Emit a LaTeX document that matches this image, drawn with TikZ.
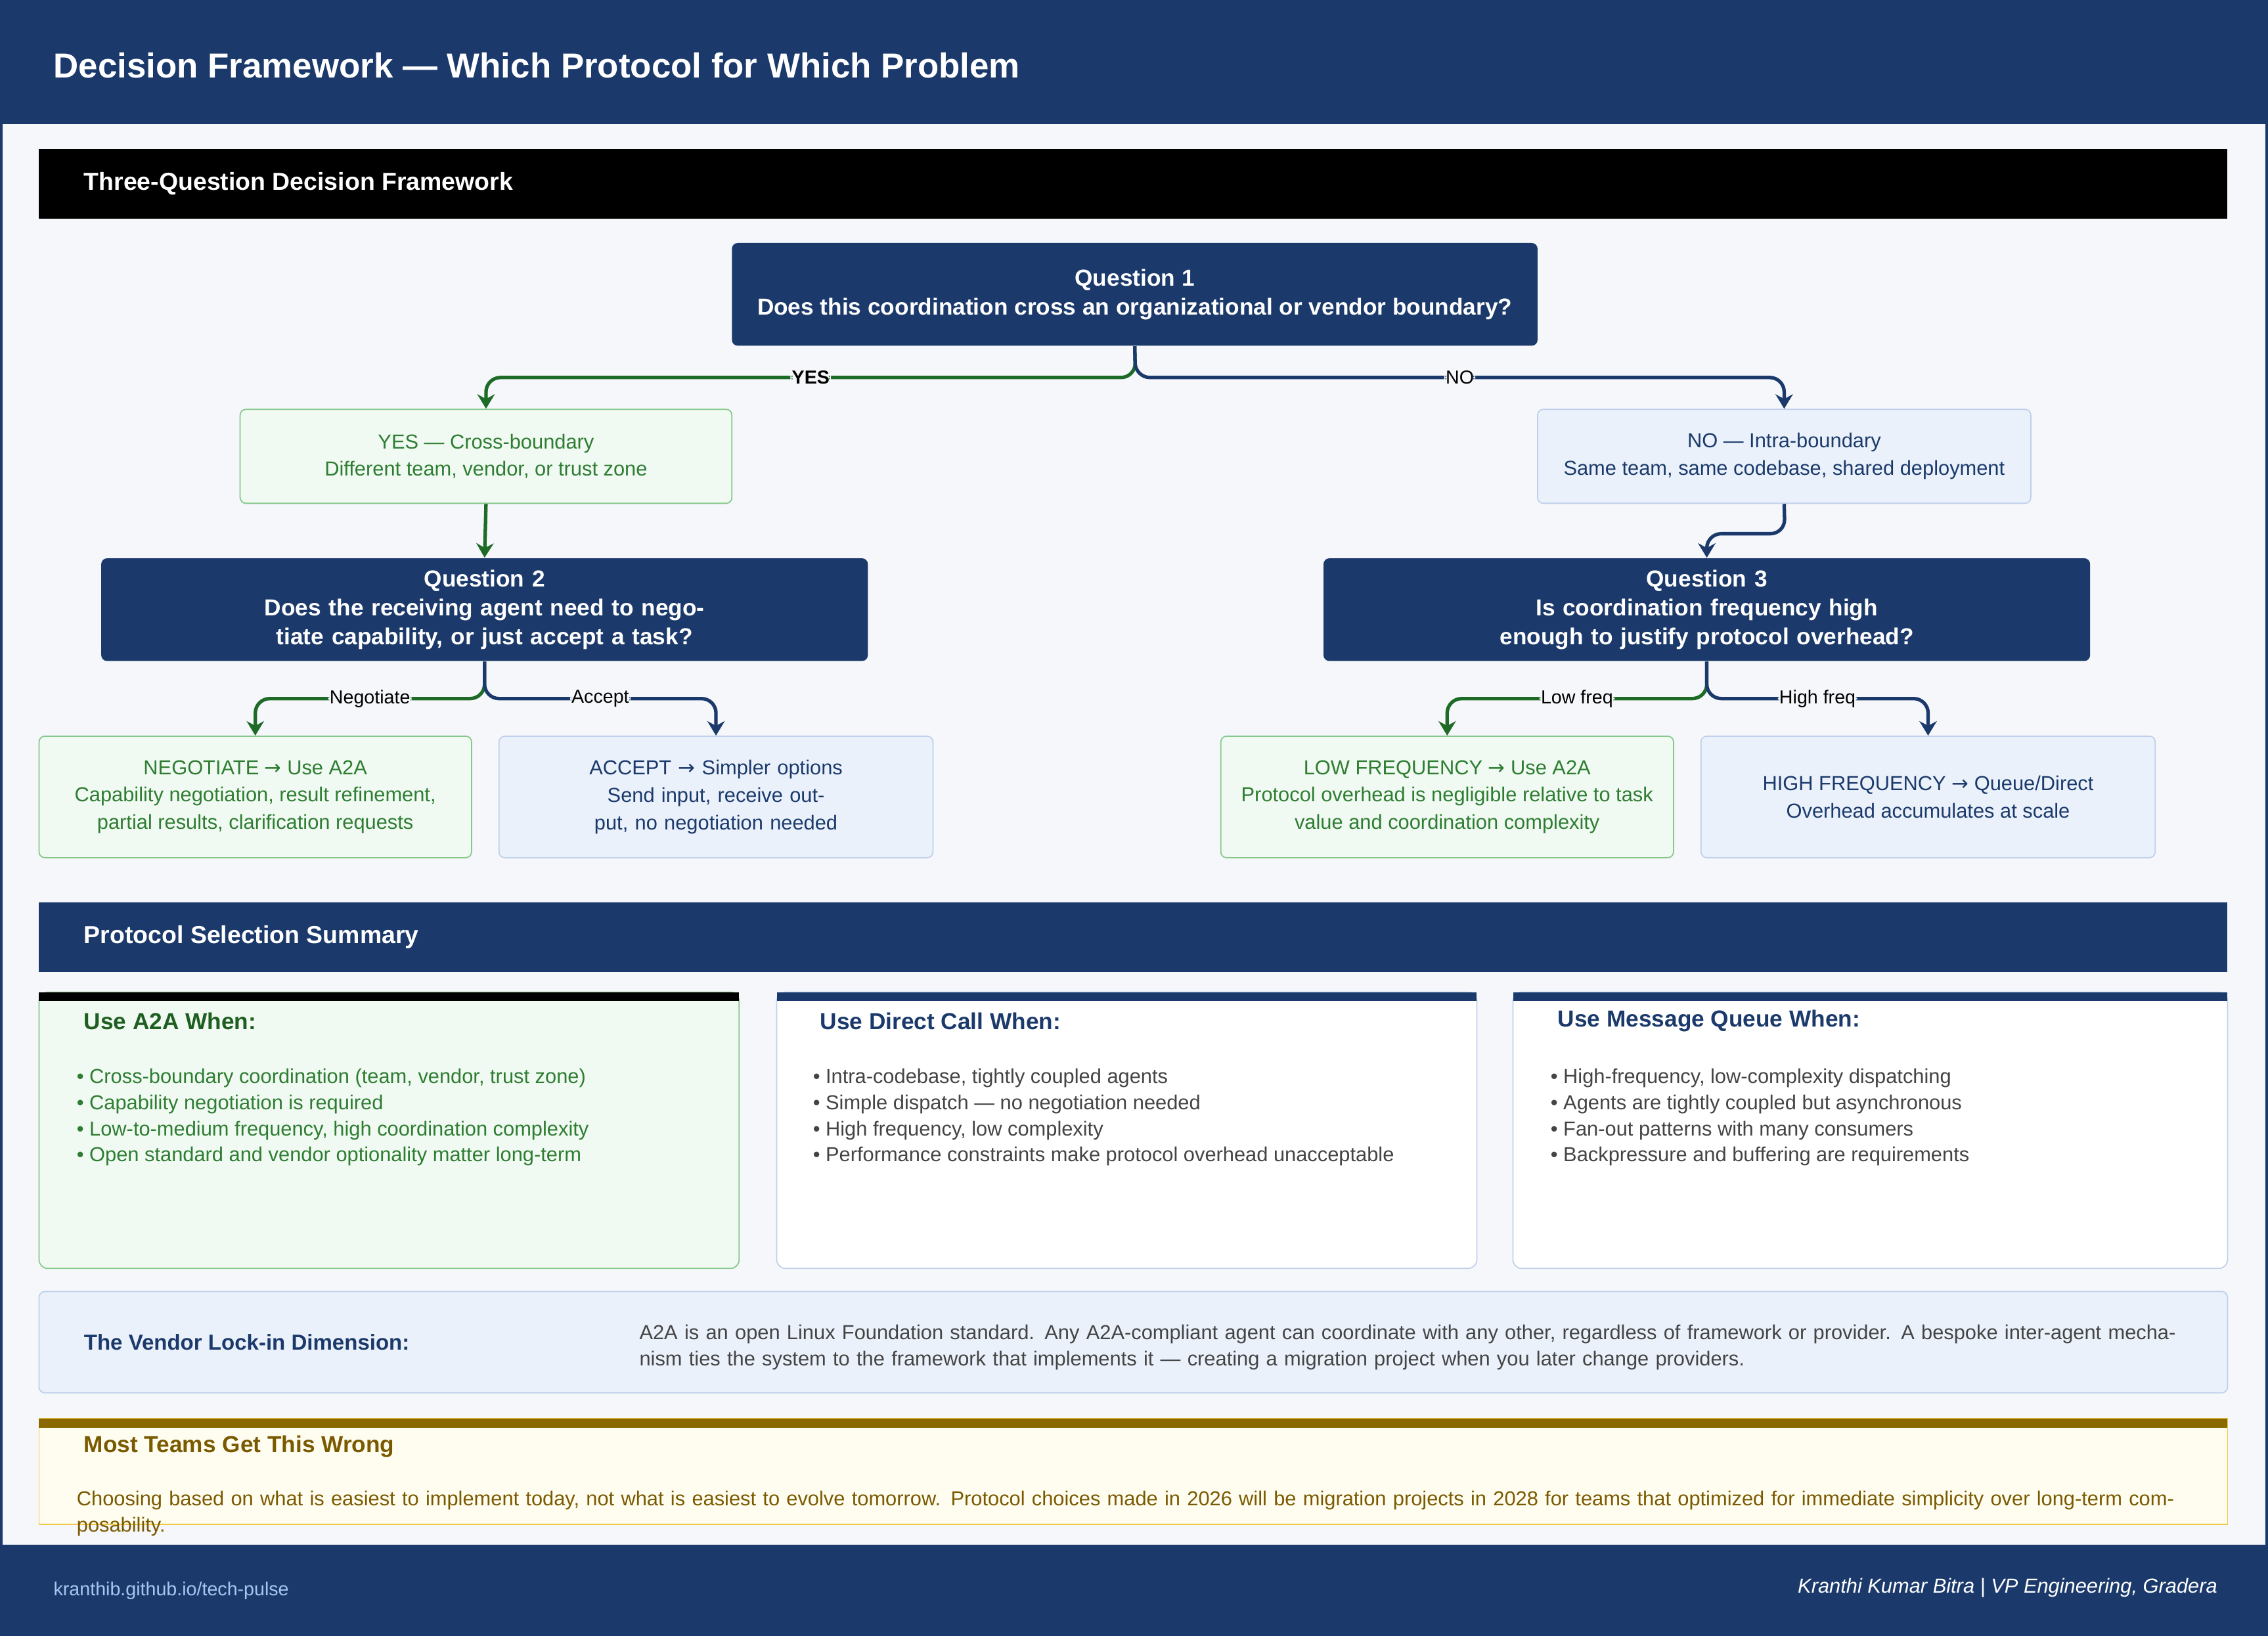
\documentclass[tikz,border=0pt]{standalone}
\usepackage{fontspec}
\setmainfont{Liberation Sans}
\newfontfamily\symfont{DejaVu Sans}
\usetikzlibrary{arrows.meta,calc,positioning}
\definecolor{navy}{HTML}{1B3A6B}
\definecolor{band}{HTML}{1E5E20}
\definecolor{gline}{HTML}{1E6B27}
\definecolor{gtext}{HTML}{2E7D32}
\definecolor{gfill}{HTML}{F0FAF2}
\definecolor{gborder}{HTML}{86C98A}
\definecolor{bfill}{HTML}{EAF1FB}
\definecolor{bborder}{HTML}{C0D0EA}
\definecolor{bg}{HTML}{F5F7FB}
\definecolor{gold}{HTML}{8A6A00}
\definecolor{ytext}{HTML}{7A5A00}
\definecolor{yfill}{HTML}{FFFDF0}
\definecolor{yborder}{HTML}{F0C94A}
\definecolor{gtxt}{HTML}{444444}
\definecolor{foot}{HTML}{A8C4F0}
\newcommand{\toarrow}{{\symfont\char"2192}}
\tikzset{
  question/.style={fill=navy, text=white, rounded corners=2pt, font=\bfseries\fontsize{8}{10}\selectfont, align=center, minimum height=35.5pt},
  yesbox/.style={fill=gfill, draw=gborder, text=gtext, rounded corners=2pt, font=\fontsize{7}{9.5}\selectfont, align=center},
  nobox/.style={fill=bfill, draw=bborder, text=navy, rounded corners=2pt, font=\fontsize{7}{9.5}\selectfont, align=center},
  gflow/.style={draw=gline, line width=1.2pt, rounded corners=5pt, -{Stealth[length=5pt,width=6pt]}},
  bflow/.style={draw=navy, line width=1.2pt, rounded corners=5pt, -{Stealth[length=5pt,width=6pt]}},
  tag/.style={fill=bg, inner sep=0.5pt, text=black, font=\fontsize{6.5}{8}\selectfont},
  band/.style={anchor=west, text=white, font=\bfseries\fontsize{8.5}{10}\selectfont},
  cardtitle/.style={anchor=west, font=\bfseries\fontsize{8}{10}\selectfont},
  bullets/.style={anchor=north west, align=left, font=\fontsize{7}{9}\selectfont}
}
\begin{document}
\begin{tikzpicture}[x=0.5pt,y=-0.5pt]
	\useasboundingbox (0,0) rectangle (1568,1131);
	% Rahmen
		\fill[navy] (0,0) rectangle (1568,1131);
		\fill[bg] (2,86) rectangle (1566,1068);
		\node[anchor=west, text=white, font=\bfseries\fontsize{12}{14}\selectfont] (title) at (30,45) {Decision Framework --- Which Protocol for Which Problem};
		\fill[band] (27,103) rectangle (1540,151);
		\node[band] (bandone) at (51,127) {Three-Question Decision Framework};
	% Knoten
		\node[question, minimum width=278.5pt] (q1) at (784.5,203.5) {Question 1\\Does this coordination cross an organizational or vendor boundary?};
		\node[yesbox, minimum width=170pt, minimum height=32.5pt] (yes) at (336,315.5) {YES --- Cross-boundary\\Different team, vendor, or trust zone};
		\node[nobox, minimum width=170.5pt, minimum height=32.5pt] (no) at (1233.5,315.5) {NO --- Intra-boundary\\Same team, same codebase, shared deployment};
		\node[question, minimum width=265pt, text width=245pt] (q2) at (335,421.5) {Question 2\\Does the receiving agent need to negotiate capability, or just accept a task?};
		\node[question, minimum width=265pt, text width=245pt] (q3) at (1180,421.5) {Question 3\\Is coordination frequency high enough to justify protocol overhead?};
		\node[yesbox, minimum width=149.5pt, minimum height=42pt] (neg) at (176.5,551) {NEGOTIATE \toarrow{} Use A2A\\Capability negotiation, result refinement,\\partial results, clarification requests};
		\node[nobox, minimum width=150pt, minimum height=42pt, text width=142pt] (acc) at (495,551) {ACCEPT \toarrow{} Simpler options\\Send input, receive output, no negotiation needed};
		\node[yesbox, minimum width=156.5pt, minimum height=42pt] (low) at (1000.5,551) {LOW FREQUENCY \toarrow{} Use A2A\\Protocol overhead is negligible relative to task\\value and coordination complexity};
		\node[nobox, minimum width=157pt, minimum height=42pt] (high) at (1333,551) {HIGH FREQUENCY \toarrow{} Queue/Direct\\Overhead accumulates at scale};
		\coordinate (j1) at (785,261);
		\coordinate (j2) at (1234,369);
		\coordinate (j3) at (335,483);
		\coordinate (j4) at (1180,483);
	% Kanten
		\draw[gflow] (q1.south) -- (j1) -| node[tag, pos=.25, font=\bfseries\fontsize{6.5}{8}\selectfont]{YES} (yes.north);
		\draw[bflow] (q1.south) -- (j1) -| node[tag, pos=.25]{NO} (no.north);
		\draw[gflow] (yes.south) -- (q2.north);
		\draw[bflow] (no.south) -- (j2) -| (q3.north);
		\draw[gflow] (q2.south) -- (j3) -| node[tag, pos=.25]{Negotiate} (neg.north);
		\draw[bflow] (q2.south) -- (j3) -| node[tag, pos=.25]{Accept} (acc.north);
		\draw[gflow] (q3.south) -- (j4) -| node[tag, pos=.25]{Low freq} (low.north);
		\draw[bflow] (q3.south) -- (j4) -| node[tag, pos=.25]{High freq} (high.north);
	% Zusammenfassung
		\fill[navy] (27,624) rectangle (1540,672);
		\node[band] (bandtwo) at (51,648) {Protocol Selection Summary};
		\draw[gborder, fill=gfill, rounded corners=3pt] (27,686) rectangle (511,877);
		\fill[band] (27,686) rectangle (511,692);
		\node[cardtitle, text=band] (a2a) at (51,706) {Use A2A When:};
		\node[bullets, text=gtext] (a2alist) at (46,732) {• Cross-boundary coordination (team, vendor, trust zone)\\• Capability negotiation is required\\• Low-to-medium frequency, high coordination complexity\\• Open standard and vendor optionality matter long-term};
		\draw[bborder, fill=white, rounded corners=3pt] (537,686) rectangle (1021,877);
		\fill[navy] (537,686) rectangle (1021,692);
		\node[cardtitle, text=navy] (direct) at (560,706) {Use Direct Call When:};
		\node[bullets, text=gtxt] (directlist) at (555,732) {• Intra-codebase, tightly coupled agents\\• Simple dispatch --- no negotiation needed\\• High frequency, low complexity\\• Performance constraints make protocol overhead unacceptable};
		\draw[bborder, fill=white, rounded corners=3pt] (1046,686) rectangle (1540,877);
		\fill[navy] (1046,686) rectangle (1540,692);
		\node[cardtitle, text=navy] (queue) at (1070,706) {Use Message Queue When:};
		\node[bullets, text=gtxt] (queuelist) at (1065,732) {• High-frequency, low-complexity dispatching\\• Agents are tightly coupled but asynchronous\\• Fan-out patterns with many consumers\\• Backpressure and buffering are requirements};
	% Hinweise
		\draw[bborder, fill=bfill, rounded corners=2pt] (27,893) rectangle (1540,963);
		\node[cardtitle, text=navy, font=\bfseries\fontsize{7.5}{9}\selectfont] (lockin) at (51,928) {The Vendor Lock-in Dimension:};
		\node[bullets, text=gtxt, text width=540pt] (lockintext) at (435,909) {A2A is an open Linux Foundation standard. Any A2A-compliant agent can coordinate with any other, regardless of framework or provider. A bespoke inter-agent mechanism ties the system to the framework that implements it --- creating a migration project when you later change providers.};
		\draw[yborder, fill=yfill] (27,981) rectangle (1540,1054);
		\fill[gold] (27,981) rectangle (1540,987);
		\node[cardtitle, text=ytext] (wrong) at (51,1000) {Most Teams Get This Wrong};
		\node[bullets, text=ytext, text width=730pt] (wrongtext) at (46,1024) {Choosing based on what is easiest to implement today, not what is easiest to evolve tomorrow. Protocol choices made in 2026 will be migration projects in 2028 for teams that optimized for immediate simplicity over long-term composability.};
	% Fusszeile
		\node[anchor=west, text=foot, font=\fontsize{6.5}{8}\selectfont] (site) at (30,1100) {kranthib.github.io/tech-pulse};
		\node[anchor=east, text=white, font=\itshape\fontsize{7}{8}\selectfont] (author) at (1540,1098) {Kranthi Kumar Bitra | VP Engineering, Gradera};
	\end{tikzpicture}
\end{document}
